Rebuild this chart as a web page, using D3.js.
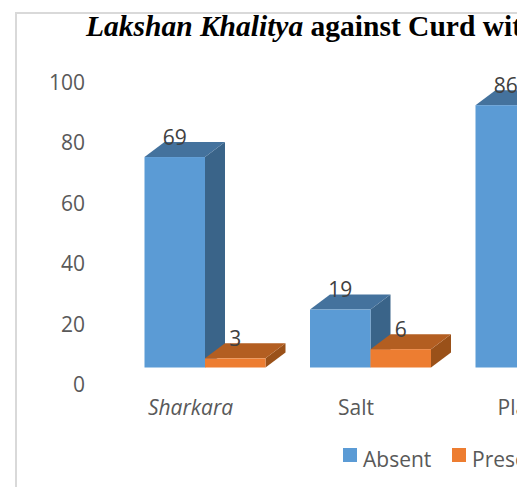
<!DOCTYPE html>
<html>
<head>
<meta charset="utf-8">
<script src="https://cdn.jsdelivr.net/npm/d3@7"></script>
<style>
html,body{margin:0;padding:0;background:#fff;overflow:hidden}
svg{display:block}
text{font-family:"Open Sans",sans-serif}
</style>
</head>
<body>
<svg id="chart" width="517" height="487"></svg>
<script>
const categories = ["Sharkara", "Salt", "Plain"];
const seriesNames = ["Absent", "Present"];
const absent = [69, 19, 86];
const present = [3, 6, null];
const yTicks = [0, 20, 40, 60, 80, 100];

const palette = {
  Absent:  {front:"#5b9bd5", top:"#44729d", side:"#3a6489"},
  Present: {front:"#ed7d31", top:"#b35e21", side:"#9a5119"}
};
const depthX = 20, depthY = 15;

const svg = d3.select("#chart");
svg.append("rect").attr("width",517).attr("height",487).attr("fill","#fff");

// chart frame
svg.append("path")
  .attr("d","M16,487V13H517")
  .attr("fill","none").attr("stroke","#d9d9d9").attr("stroke-width",2);

const y = d3.scaleLinear().domain([0,100]).range([367.5,62.5]);
const yLabel = d3.scaleLinear().domain([0,100]).range([385.2,82.7]);
const x0 = d3.scaleBand().domain(categories).range([144.5,596.5]).paddingInner(44.5/165.5).paddingOuter(0);
const x1 = d3.scaleBand().domain(seriesNames).range([0,x0.bandwidth()]);

// axes
const yAxis = svg.append("g").attr("transform","translate(85,0)")
  .call(d3.axisLeft(yLabel).tickValues(yTicks).tickSize(0).tickPadding(0));
yAxis.select(".domain").remove();
yAxis.selectAll("text").attr("font-size",21).attr("fill","#595959").style("font-family",'"Open Sans",sans-serif');

const xAxis = svg.append("g").attr("transform","translate(-14.5,400)")
  .call(d3.axisBottom(x0).tickSize(0).tickPadding(0));
xAxis.select(".domain").remove();
xAxis.selectAll("text").attr("font-size",21).attr("fill","#595959")
  .style("font-family",'"Open Sans",sans-serif')
  .style("font-style",d=>d==="Sharkara"?"italic":"normal");

// 3D bars
const rows = [];
seriesNames.forEach((s,si)=>{
  const vals = si===0?absent:present;
  categories.forEach((c,ci)=>{ if(vals[ci]!=null) rows.push({s,c,v:vals[ci]}); });
});
const bars = svg.append("g").selectAll("g").data(rows).join("g");
const geom = d=>({l:x0(d.c)+x1(d.s), r:x0(d.c)+x1(d.s)+x1.bandwidth(), t:y(d.v), b:y(0)});
bars.append("path").attr("fill",d=>palette[d.s].side)
  .attr("d",d=>{const g=geom(d);return `M${g.r},${g.t}L${g.r+depthX},${g.t-depthY}L${g.r+depthX},${g.b-depthY}L${g.r},${g.b}Z`;});
bars.append("path").attr("fill",d=>palette[d.s].top)
  .attr("d",d=>{const g=geom(d);return `M${g.l},${g.t}L${g.l+depthX},${g.t-depthY}L${g.r+depthX},${g.t-depthY}L${g.r},${g.t}Z`;});
bars.append("rect").attr("fill",d=>palette[d.s].front)
  .attr("x",d=>geom(d).l).attr("y",d=>geom(d).t)
  .attr("width",x1.bandwidth()).attr("height",d=>y(0)-y(d.v));

// data labels
svg.append("g").selectAll("text").data(rows).join("text")
  .attr("x",d=>x0(d.c)+x1(d.s)+x1.bandwidth()/2)
  .attr("y",d=>y(d.v)-12.3)
  .attr("text-anchor","middle").attr("font-size",21).attr("fill","#404040")
  .text(d=>d.v);

// title
const title = svg.append("text").attr("x",86).attr("y",36)
  .attr("font-size",29.5).attr("font-weight","bold").attr("fill","#000")
  .style("font-family",'"Liberation Serif",serif');
title.append("tspan").attr("font-style","italic").text("Lakshan Khalitya");
title.append("tspan").text(" against Curd with");

// legend
const legendX = {Absent:343, Present:452};
const legend = svg.append("g").selectAll("g").data(seriesNames).join("g")
  .attr("transform",d=>`translate(${legendX[d]},448)`);
legend.append("rect").attr("width",14).attr("height",14).attr("fill",d=>palette[d].front);
legend.append("text").attr("x",20).attr("y",18.7)
  .attr("font-size",21).attr("fill","#595959").text(d=>d);
</script>
</body>
</html>
